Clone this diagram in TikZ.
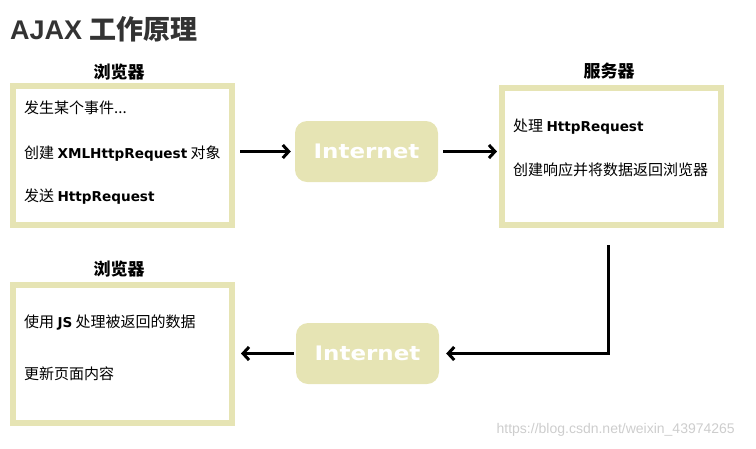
\documentclass[tikz,border=0pt]{standalone}
\usepackage{fontspec}
\usetikzlibrary{arrows.meta}
\newfontfamily\cjkfont{Noto Sans CJK SC}
\newfontfamily\latfont{DejaVu Sans}
\newfontfamily\ttlfont{Liberation Sans}
\newcommand{\zh}[1]{{\cjkfont\fontsize{15}{17}\selectfont #1}}
\newcommand{\en}[1]{{\latfont\bfseries\fontsize{13.6}{16}\selectfont #1}}
\definecolor{olive}{RGB}{230,228,180}
\definecolor{ttl}{RGB}{51,51,51}
\definecolor{wm}{RGB}{205,205,205}
\tikzset{
  panel/.style={draw=olive, line width=6pt, fill=white, minimum width=219pt, inner sep=0pt},
  netbox/.style={fill=olive, rounded corners=12pt, minimum width=143pt, minimum height=61pt, inner sep=0pt,
    text=white, font=\latfont\bfseries\fontsize{20}{22}\selectfont},
  txt/.style={anchor=base west, inner sep=0pt},
  lbl/.style={inner sep=0pt, font=\cjkfont\bfseries\fontsize{17}{19}\selectfont},
  conn/.style={line width=3pt, -{Straight Barb[length=6pt,width=13pt,line width=3pt]}}
}
\begin{document}
\begin{tikzpicture}[x=1pt,y=-1pt]
\useasboundingbox (0,0) rectangle (756,448);
% title
\node[anchor=base west, inner sep=0pt, text=ttl] (title) at (10,39)
  {{\ttlfont\bfseries\fontsize{27}{29}\selectfont AJAX }{\cjkfont\bfseries\fontsize{27}{29}\selectfont 工作原理}};
% boxes
\node[panel, minimum height=139pt] (b1) at (122.5,155.5) {};
\node[panel, minimum height=137pt] (srv) at (611.5,156.5) {};
\node[panel, minimum height=138pt] (b2) at (122.5,354) {};
% labels
\node[lbl] (l1) at (119,72) {浏览器};
\node[lbl] (l2) at (609,71) {服务器};
\node[lbl] (l3) at (119,269) {浏览器};
% internet
\node[netbox] (n1) at (366.5,151.5) {\scalebox{1.15}[1]{Internet}};
\node[netbox] (n2) at (367.5,353.5) {\scalebox{1.15}[1]{Internet}};
% texts
\node[txt] (t1) at (24,113) {\zh{发生某个事件...}};
\node[txt] (t2) at (24,158) {\zh{创建} \en{XMLHttpRequest} \zh{对象}};
\node[txt] (t3) at (24,201) {\zh{发送} \en{HttpRequest}};
\node[txt] (t4) at (513,131) {\zh{处理} \en{HttpRequest}};
\node[txt] (t5) at (513,175) {\zh{创建响应并将数据返回浏览器}};
\node[txt] (t6) at (24,327) {\zh{使用} \en{JS} \zh{处理被返回的数据}};
\node[txt] (t7) at (24,379) {\zh{更新页面内容}};
% watermark
\node[anchor=east, inner sep=0pt, text=wm, font=\ttlfont\fontsize{14}{16}\selectfont] (wmk) at (735,430) {https://blog.csdn.net/weixin\_43974265};
% connectors
\draw[conn] ([xshift=5pt]b1.east |- n1.west) -- ([xshift=-4pt]n1.west);
\draw[conn] ([xshift=5pt]n1.east) -- ([xshift=-2pt]srv.west |- n1.east);
\coordinate (c1) at (608,245);
\coordinate (c2) at (608,353.5);
\draw[conn, line join=miter] (c1) -- (c2) -- ([xshift=7pt]n2.east);
\draw[conn] ([xshift=-2pt]n2.west) -- ([xshift=6pt]b2.east |- n2.west);
\end{tikzpicture}
\end{document}
